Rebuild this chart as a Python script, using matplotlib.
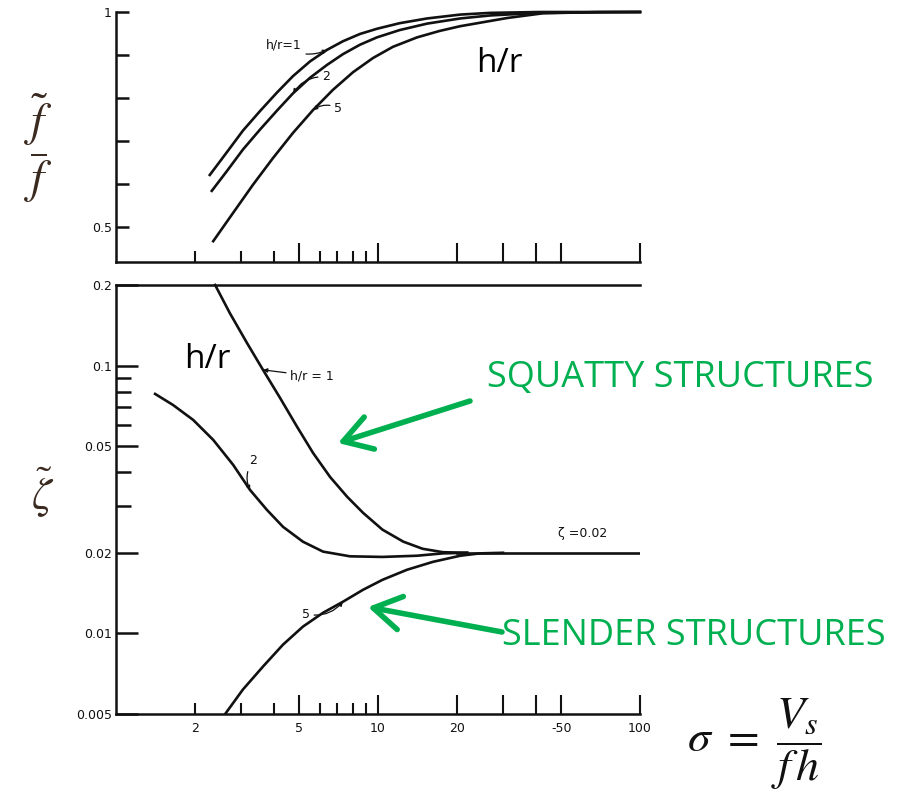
import matplotlib
matplotlib.use("Agg")
import matplotlib.pyplot as plt
from matplotlib.patches import FancyArrowPatch

plt.rcParams['mathtext.fontset'] = 'stix'

# ---- top panel: frequency ratio f~/f vs sigma ----
top_x1 = [2.28, 2.65, 3.05, 3.55, 4.12, 4.74, 5.50, 6.39, 7.35, 8.54, 9.91, 12.1, 15.4, 20.6, 26.8, 41.5, 100]
top_y1 = [0.621, 0.674, 0.724, 0.770, 0.813, 0.851, 0.885, 0.912, 0.932, 0.949, 0.961, 0.974, 0.985,
          0.994, 0.998, 1.0, 1.0]
top_x2 = [2.32, 2.65, 3.05, 3.55, 4.12, 4.74, 5.50, 6.39, 7.35, 8.54, 9.91, 12.1, 15.4, 20.6, 26.8, 41.5, 100]
top_y2 = [0.584, 0.630, 0.680, 0.727, 0.771, 0.811, 0.847, 0.877, 0.902, 0.924, 0.941, 0.958, 0.973,
          0.985, 0.992, 0.998, 1.0]
top_x5 = [2.35, 2.80, 3.33, 3.97, 4.74, 5.65, 6.73, 8.03, 9.57, 11.4, 14.1, 17.2, 20.6, 31.1, 42.6, 70.3, 100]
top_y5 = [0.467, 0.533, 0.598, 0.660, 0.719, 0.772, 0.819, 0.860, 0.893, 0.919, 0.941, 0.956, 0.967,
          0.986, 0.997, 1.0, 1.0]

# ---- bottom panel: damping zeta~ vs sigma ----
bot_x1 = [2.39, 2.72, 3.16, 3.64, 4.23, 4.91, 5.65, 6.56, 7.62, 8.77, 10.4, 12.5, 14.8, 17.7, 21.9]
bot_y1 = [0.2, 0.157, 0.1216, 0.0964, 0.0757, 0.0591, 0.0472, 0.0384, 0.0324, 0.0282, 0.0244,
          0.0220, 0.0207, 0.0201, 0.0200]
bot_x2 = [1.41, 1.65, 1.97, 2.35, 2.80, 3.25, 3.77, 4.34, 5.17, 6.17, 7.82, 10.4, 14.1, 17.7, 21.9]
bot_y2 = [0.0784, 0.0713, 0.0627, 0.0528, 0.0426, 0.0343, 0.0289, 0.0250, 0.0220, 0.0202, 0.0194,
          0.0193, 0.0195, 0.0199, 0.0200]
bot_x5 = [2.61, 3.05, 3.64, 4.34, 5.17, 6.17, 7.35, 8.77, 10.4, 12.9, 16.2, 20.6, 24.5, 30.0]
bot_y5 = [0.0050, 0.00617, 0.00752, 0.00908, 0.0106, 0.01194, 0.01313, 0.01455, 0.01585, 0.01728,
          0.0185, 0.0195, 0.0199, 0.0200]
zeta_x = [20.0, 100]
zeta_y = [0.0200, 0.0200]

major_x = [5, 10, 20, 30, 40, 50, 100]
major_lbl = ['5', '10', '20', '', '', '-50', '100']
minor_x = [2, 3, 4, 6, 7, 8, 9]
minor_lbl = ['2', '', '', '', '', '', '']

W, H = 900, 808
GREEN = '#00B050'
INK = '#111111'


def fx(px):
    return px / W


def fy(py):
    return 1 - py / H


fig = plt.figure(figsize=(9, 8.08), dpi=100)
ax1 = fig.add_axes([fx(116), fy(262), fx(524), 250 / H])
ax2 = fig.add_axes([fx(116), fy(714), fx(524), 429 / H])

lw = 1.9
for ax in (ax1, ax2):
    ax.set_xscale('log')
    ax.set_xlim(1, 100)
    ax.spines['right'].set_visible(False)
    for s in ('left', 'bottom', 'top'):
        ax.spines[s].set_linewidth(1.8)
        ax.spines[s].set_color(INK)
    ax.set_xticks(major_x, labels=major_lbl)
    ax.set_xticks(minor_x, labels=minor_lbl, minor=True)
    ax.tick_params(axis='x', which='major', direction='in', length=14, width=1.5, colors=INK,
                   labelsize=9, pad=6)
    ax.tick_params(axis='x', which='minor', direction='in', length=8, width=1.5, colors=INK,
                   labelsize=9, pad=6)
    ax.tick_params(axis='y', which='both', direction='in', width=1.8, colors=INK, labelsize=9)

ax1.spines['top'].set_visible(False)
ax1.tick_params(axis='x', which='both', labelbottom=False)
ax1.set_ylim(0.4186, 1.0)
ax1.set_yticks([0.5, 0.6, 0.7, 0.8, 0.9, 1.0], labels=['0.5', '', '', '', '', '1'])
ax1.tick_params(axis='y', length=9, pad=3)

ax1.plot(top_x1, top_y1, color=INK, lw=lw, clip_on=False)
ax1.plot(top_x2, top_y2, color=INK, lw=lw, clip_on=False)
ax1.plot(top_x5, top_y5, color=INK, lw=lw, clip_on=False)

ax2.set_yscale('log')
ax2.set_ylim(0.005, 0.2)
ax2.set_yticks([0.005, 0.01, 0.02, 0.05, 0.1, 0.2],
               labels=['0.005', '0.01', '0.02', '0.05', '0.1', '0.2'])
ax2.set_yticks([0.03, 0.04, 0.06, 0.07, 0.08, 0.09], labels=[''] * 6, minor=True)
ax2.tick_params(axis='y', which='major', length=16, pad=3)
ax2.tick_params(axis='y', which='minor', length=11)

ax2.plot(bot_x1, bot_y1, color=INK, lw=lw, clip_on=False)
ax2.plot(bot_x2, bot_y2, color=INK, lw=lw)
ax2.plot(bot_x5, bot_y5, color=INK, lw=lw)
ax2.plot(zeta_x, zeta_y, color=INK, lw=lw)

# curve labels
small = dict(fontsize=9, color=INK)
arr = dict(arrowstyle='-|>', color=INK, lw=0.9, mutation_scale=6,
           connectionstyle='arc3,rad=0.3', shrinkA=1, shrinkB=0)
ax1.annotate('h/r=1', xy=(top_x1[7], top_y1[7]), xytext=(fx(284), fy(45)),
             textcoords='figure fraction', ha='center', va='center', arrowprops=arr, **small)
ax1.annotate('2', xy=(top_x2[5], top_y2[5]), xytext=(fx(326), fy(77)),
             textcoords='figure fraction', ha='center', va='center', arrowprops=arr, **small)
ax1.annotate('5', xy=(top_x5[5], top_y5[5]), xytext=(fx(338), fy(108)),
             textcoords='figure fraction', ha='center', va='center', arrowprops=arr, **small)
ax2.annotate('h/r = 1', xy=(bot_x1[3], bot_y1[3]), xytext=(fx(312), fy(376)),
             textcoords='figure fraction', ha='center', va='center',
             arrowprops=dict(arr, connectionstyle='arc3,rad=0'), **small)
ax2.annotate('2', xy=(bot_x2[5], bot_y2[5]), xytext=(fx(253), fy(461)),
             textcoords='figure fraction', ha='center', va='center', arrowprops=arr, **small)
ax2.annotate('5', xy=(bot_x5[6], bot_y5[6]), xytext=(fx(306), fy(614)),
             textcoords='figure fraction', ha='center', va='center', arrowprops=arr, **small)
fig.text(fx(583), fy(533), 'ζ =0.02', ha='center', va='center', **small)

# big h/r notes
fig.text(fx(499), fy(64), 'h/r', fontsize=24, family='Open Sans', ha='center', va='center')
fig.text(fx(207), fy(360), 'h/r', fontsize=24, family='Open Sans', ha='center', va='center')

# axis labels
fig.text(fx(38), fy(148), r'$\dfrac{\tilde{f}}{f}$', fontsize=34, color='#3a2a20',
         ha='center', va='center')
fig.text(fx(43), fy(492), r'$\tilde{\zeta}$', fontsize=32, color='#3a2a20',
         ha='center', va='center')
fig.text(fx(754), fy(744), r'$\sigma\ =\ \dfrac{V_s}{f\,h}$', fontsize=33, color='#111111',
         ha='center', va='center')

# green annotations
garr = dict(arrowstyle='->,head_length=0.9,head_width=0.55', color=GREEN, lw=4,
            mutation_scale=22, shrinkA=0, shrinkB=0, capstyle='round', joinstyle='round')
fig.text(fx(487), fy(378), 'SQUATTY STRUCTURES', fontsize=26, family='Open Sans',
         color=GREEN, ha='left', va='center')
fig.text(fx(502), fy(636), 'SLENDER STRUCTURES', fontsize=26, family='Open Sans',
         color=GREEN, ha='left', va='center')
fig.add_artist(FancyArrowPatch((fx(470), fy(401)), (fx(338), fy(443)),
                               transform=fig.transFigure, **garr))
fig.add_artist(FancyArrowPatch((fx(502), fy(632)), (fx(368), fy(607)),
                               transform=fig.transFigure, **garr))

fig.savefig('out.png', dpi=100, facecolor='white')
